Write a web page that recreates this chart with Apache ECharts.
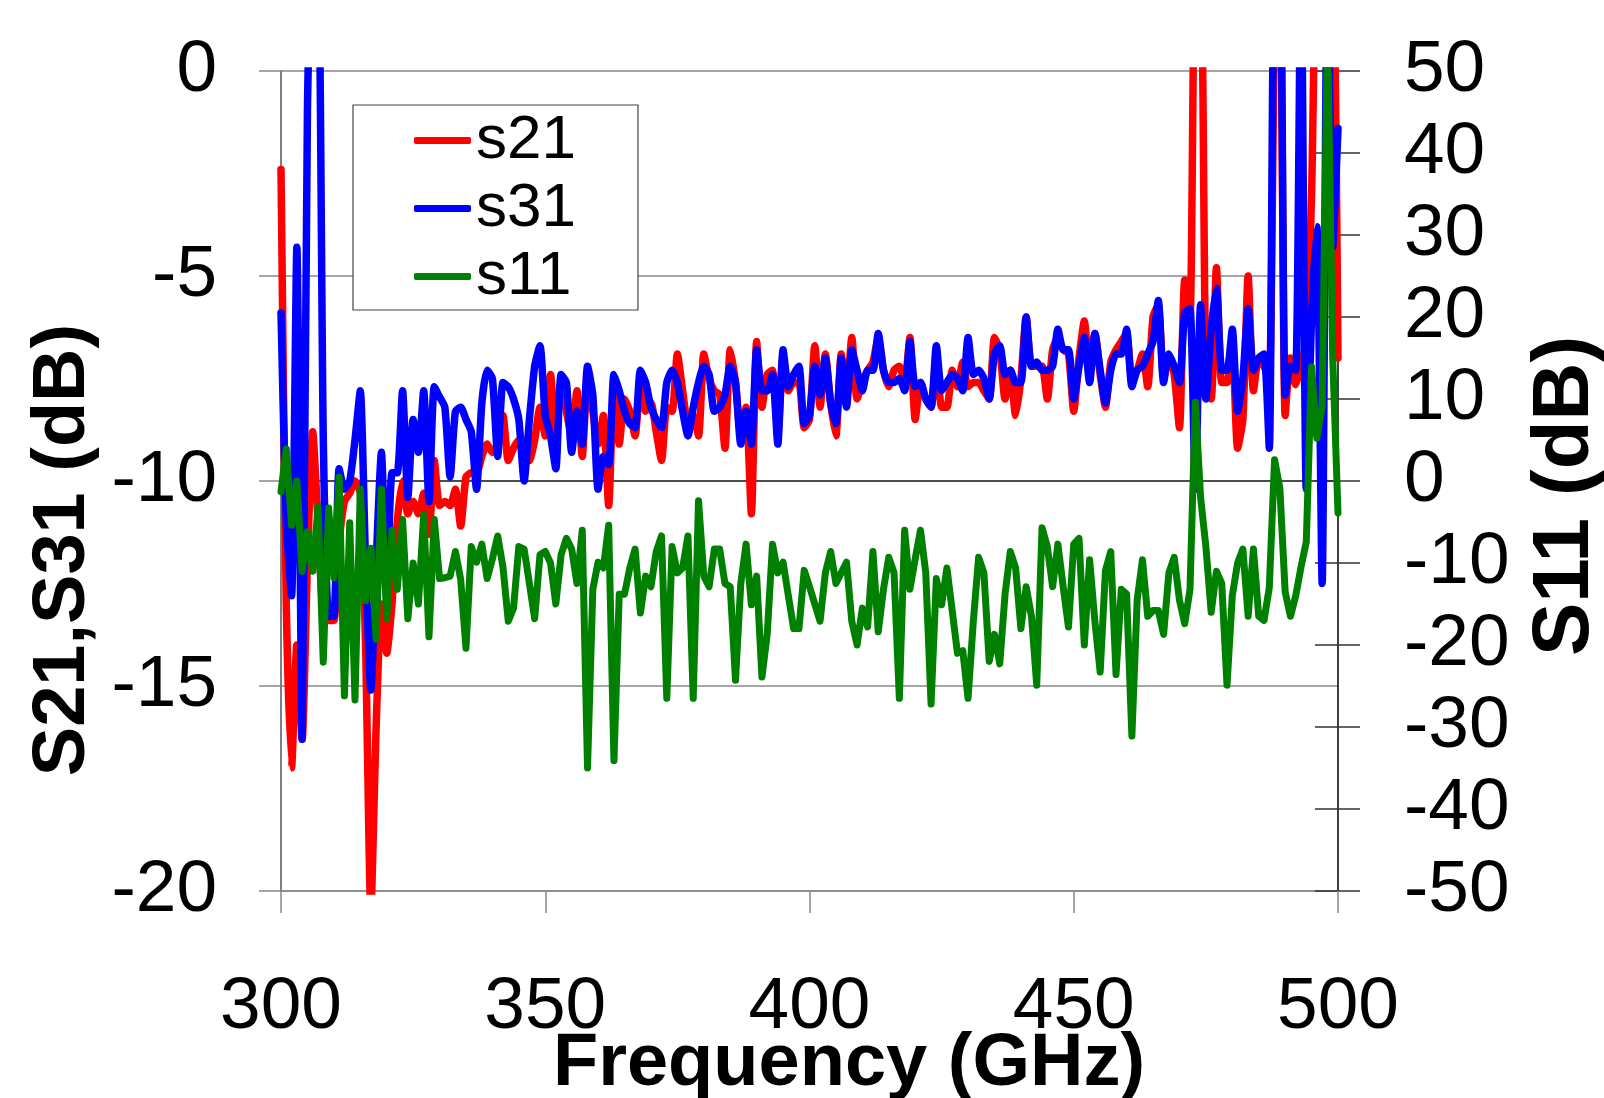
<!DOCTYPE html>
<html>
<head>
<meta charset="utf-8">
<script src="https://cdn.jsdelivr.net/npm/echarts@6/dist/echarts.min.js"></script>
<style>
html,body{margin:0;padding:0;background:#fff;}
#chart{width:1604px;height:1098px;}
</style>
</head>
<body>
<div id="chart"></div>
<script>
const freq = [300,301,302,303,304,305,306,307,308,309,310,311,312,313,314,315,316,317,318,319,320,321,322,323,324,
325,326,327,328,329,330,331,332,333,334,335,336,337,338,339,340,341,342,343,344,345,346,347,348,349,
350,351,352,353,354,355,356,357,358,359,360,361,362,363,364,365,366,367,368,369,370,371,372,373,374,
375,376,377,378,379,380,381,382,383,384,385,386,387,388,389,390,391,392,393,394,395,396,397,398,399,
400,401,402,403,404,405,406,407,408,409,410,411,412,413,414,415,416,417,418,419,420,421,422,423,424,425,
426,427,428,429,430,431,432,433,434,435,436,437,438,439,440,441,442,443,444,445,446,447,448,449,450,
451,452,453,454,455,456,457,458,459,460,461,462,463,464,465,466,467,468,469,470,471,472,473,474,475,476,
477,478,479,480,481,482,483,484,485,486,487,488,489,490,491,492,493,494,495,496,497,498,499,500];

const s21 = [-2.4,-13,-17,-14,-16.3,-12,-8.8,-11,-13.3,-13.4,-13.4,-11.5,-10.5,-10.3,-10,-10.3,-14,-20.5,-16,-13,-14.2,-13,-11,-10,-10.8,
-10.5,-10.8,-10.3,-11.3,-9.5,-10.6,-10.5,-10.6,-10.2,-11.1,-9.9,-9.8,-9.8,-9.4,-9.1,-9.3,-9.2,-8.4,-9.5,-9.2,-9.0,-9.1,-9.5,-9.0,-8.2,
-8.9,-7.4,-8.9,-7.6,-8.3,-8.9,-7.8,-9.4,-7.5,-8.3,-9.1,-8.4,-10.6,-7.6,-9.1,-8.0,-8.3,-8.9,-7.6,-8.3,-8.1,-8.8,-9.5,-8.2,-8.3,
-6.9,-7.8,-8.6,-8.4,-8.9,-6.9,-7.5,-7.8,-7.9,-9.2,-6.8,-7.6,-8.9,-8.2,-10.8,-6.6,-8.2,-7.4,-7.3,-8.9,-7.0,-7.8,-7.6,-7.6,-8.7,
-8.5,-6.7,-8.2,-6.9,-8.1,-8.9,-6.9,-8.0,-6.5,-8.0,-7.6,-7.3,-7.1,-6.5,-7.3,-7.7,-7.3,-7.2,-7.6,-6.5,-8.5,-7.6,-8.0,-8.2,-7.0,-8.2,
-8.2,-7.3,-7.7,-7.1,-7.7,-7.6,-7.6,-7.8,-8.0,-6.5,-6.8,-8.0,-7.3,-8.4,-7.5,-6.0,-7.2,-7.2,-7.2,-8.0,-6.8,-6.5,-6.8,-6.9,-8.3,
-7.0,-6.1,-7.4,-6.4,-7.4,-8.2,-7.1,-6.8,-6.6,-6.4,-7.5,-7.3,-6.9,-7.7,-6.0,-5.7,-7.5,-7.0,-7.4,-8.7,-5.1,-6.0,3,3,-7.5,-8.0,
-4.8,-7.6,-7.6,-6.7,-9.2,-8.5,-5.0,-7.8,-7.0,-7.2,-7.5,1,3,-8.4,-7.0,-7.65,-7.2,-6.5,-3,3,3,3,3,-7.0];

const s31 = [-5.9,-11,-12.8,-4.3,-16.3,-1,3,3,-9,-13.3,-13.3,-9.7,-10.2,-10,-9,-7.8,-12,-15.1,-12,-9.3,-12.8,-9.8,-9.8,-7.8,-10.4,
-8.5,-9.3,-7.8,-10.5,-7.7,-7.95,-8.2,-9.9,-8.3,-8.2,-8.5,-8.8,-10.2,-8.1,-7.3,-7.5,-9.4,-7.6,-7.7,-8.0,-8.5,-10,-8.5,-7.2,-6.7,
-8.4,-8.9,-9.7,-7.4,-7.6,-9.3,-8.3,-9.1,-7.2,-7.9,-10.2,-9.4,-9.6,-7.4,-7.8,-8.3,-8.6,-8.7,-7.3,-7.6,-8.2,-8.5,-8.7,-7.6,-7.3,
-7.6,-8.3,-8.9,-8.2,-7.6,-7.2,-7.4,-8.3,-8.2,-7.9,-7.2,-7.6,-9.1,-8.3,-9.1,-6.8,-7.8,-7.8,-7.4,-9.1,-6.8,-7.7,-7.4,-7.2,-8.6,
-8.4,-7.2,-7.9,-7.0,-8.1,-8.6,-7.0,-8.2,-6.8,-7.3,-7.8,-7.3,-7.3,-6.4,-7.3,-7.6,-7.6,-7.5,-7.8,-6.6,-7.7,-7.6,-8.0,-8.2,-6.7,-7.8,
-7.6,-7.4,-7.5,-7.8,-6.5,-7.4,-7.3,-7.5,-8.0,-6.9,-6.7,-7.4,-7.3,-7.6,-7.6,-6.0,-7.2,-7.1,-7.3,-7.3,-7.2,-6.3,-6.8,-6.8,-8.0,
-7.2,-6.5,-7.6,-6.4,-7.3,-8.1,-7.3,-6.9,-6.9,-6.3,-7.7,-7.3,-7.2,-6.9,-6.6,-5.6,-7.6,-6.9,-7.2,-7.6,-5.9,-5.8,-10.2,-5.7,-8.0,-6.3,
-5.3,-7.3,-7.3,-6.3,-8.3,-7.5,-5.8,-7.3,-7.0,-6.9,-9.2,3,3,-7.9,-7.2,-7.3,3,-10.2,-6,-3.8,-12.5,3,-4.3,-1.4];

const s11 = [-1.3,3.9,-5.4,0,-11,-6.2,-11,-3.1,-22.1,-3.3,-11.8,0.5,-26.2,-5.1,-26.7,-1,-14.6,-8.2,-19.3,-1,-16.8,-6,-13.2,-4.7,-16.8,
-10,-15,-4.1,-19,-4.7,-11.9,-11.8,-11.6,-8.6,-12,-20.4,-8,-9.9,-7.7,-11.9,-9.5,-6.7,-10.5,-17.1,-15.5,-8,-8.3,-12.5,-16.8,-9,
-8.6,-10,-15,-9,-7,-8.3,-12.5,-6,-35,-13.2,-9.9,-10.6,-5.4,-34.1,-13.8,-13.8,-10.6,-8.3,-16.1,-11.6,-12.9,-8.6,-6.7,-26.5,-8,
-11.2,-10.6,-6.7,-26.5,-2.4,-11.6,-12.9,-8.3,-8.3,-12.5,-12.9,-24.3,-12.5,-7.7,-15.1,-11.6,-23.9,-18.7,-7.7,-11.2,-9.9,-14,-18,-18,-10.9,
-12.9,-15,-17.1,-11.2,-8.6,-12.5,-11.2,-9.9,-17.1,-20,-15.5,-17.8,-8.6,-18.4,-13.2,-9.3,-11.2,-26.5,-6,-13.2,-9.5,-6,-11.2,-27.2,-11.9,-15.1,
-10.6,-15.8,-21,-20.7,-26.5,-17.1,-9.3,-11.2,-22,-18.7,-22.3,-13.8,-8.6,-10.6,-18,-12.9,-16.5,-24.9,-5.7,-8,-12.9,-7.7,-12.9,-17.8,-7.7,
-7,-20,-9.6,-17.1,-23.3,-10.9,-8.6,-23.6,-13.2,-13.8,-31.1,-14.5,-9.6,-16.5,-15.8,-15.8,-18.7,-11.2,-9.3,-14.5,-17.4,-13.2,9.6,-2,-8,-16,
-11,-12.5,-24.9,-14,-10,-8.3,-16.5,-8.3,-16.5,-17,-13,2.6,-0.9,-13.5,-16.5,-14,-10.5,-7.4,13.9,5.2,9.1,55,15,-3.9];

const seriesNames = ['s21', 's31', 's11'];
const xTitle = 'Frequency (GHz)';
const yLeftTitle = 'S21,S31 (dB)';
const yRightTitle = 'S11 (dB)';

const FONT = '"Liberation Sans", Arial, Helvetica, sans-serif';
function pairs(vals){ return freq.map((f, i) => [f, vals[i]]); }

const chart = echarts.init(document.getElementById('chart'), null, {renderer: 'canvas'});
chart.setOption({
  animation: false,
  backgroundColor: '#ffffff',
  grid: {left: 281, right: 266, top: 71, bottom: 207, containLabel: false, outerBoundsMode: 'none'},
  legend: {
    data: seriesNames,
    orient: 'vertical',
    left: 353, top: 105,
    padding: [3, 62, 1, 61],
    itemGap: 3,
    itemWidth: 57, itemHeight: 7,
    icon: 'roundRect',
    backgroundColor: '#ffffff',
    borderColor: '#444',
    borderWidth: 1.2,
    textStyle: {fontFamily: FONT, fontSize: 62, lineHeight: 65, color: '#000'}
  },
  xAxis: {
    type: 'value', min: 300, max: 500, interval: 50,
    name: xTitle, nameLocation: 'middle', nameGap: 137, nameMoveOverlap: false,
    nameTextStyle: {fontFamily: FONT, fontSize: 74, fontWeight: 'bold', color: '#000', padding: [0, 0, 0, 79]},
    axisLine: {show: true, onZero: false, lineStyle: {color: '#888', width: 1.5}},
    axisTick: {show: true, inside: false, length: 22, lineStyle: {color: '#888', width: 1.5}},
    axisLabel: {fontFamily: FONT, fontSize: 73, color: '#000', margin: 80},
    splitLine: {show: false}
  },
  yAxis: [
    {
      type: 'value', min: -20, max: 0, interval: 5, position: 'left',
      name: yLeftTitle, nameLocation: 'middle', nameGap: 175, nameRotate: 90,
      nameTextStyle: {fontFamily: FONT, fontSize: 74, fontWeight: 'bold', color: '#000', padding: [0, 138, 0, 0]},
      axisLine: {show: true, onZero: false, lineStyle: {color: '#555', width: 1.5}},
      axisTick: {show: true, inside: false, length: 22, lineStyle: {color: '#888', width: 1.5}},
      axisLabel: {fontFamily: FONT, fontSize: 73, color: '#000', margin: 64},
      splitLine: {show: true, lineStyle: {color: ['#888', '#888', '#111', '#888', '#888'], width: 1.5}}
    },
    {
      type: 'value', min: -50, max: 50, interval: 10, position: 'right',
      name: yRightTitle, nameLocation: 'middle', nameGap: 188, nameRotate: 90,
      nameTextStyle: {fontFamily: FONT, fontSize: 80, fontWeight: 'bold', color: '#000', padding: [0, 30, 0, 0]},
      axisLine: {show: true, onZero: false, lineStyle: {color: '#000', width: 1.5}},
      axisTick: {show: true, inside: false, length: 22, lineStyle: {color: '#333', width: 1.5}},
      axisLabel: {fontFamily: FONT, fontSize: 73, color: '#000', margin: 66, align: 'left'},
      splitLine: {show: false}
    },
    {
      type: 'value', min: -50, max: 50, interval: 10, position: 'right',
      axisLine: {show: false, onZero: false},
      axisTick: {show: true, inside: true, length: 23, lineStyle: {color: '#333', width: 1.5}},
      axisLabel: {show: false},
      splitLine: {show: false}
    }
  ],
  series: [
    {name: seriesNames[0], type: 'line', yAxisIndex: 0, data: pairs(s21), symbol: 'none', smooth: 0.2,
     clip: true, color: '#ff0000', lineStyle: {color: '#ff0000', width: 7.5, cap: 'round', join: 'round'}},
    {name: seriesNames[1], type: 'line', yAxisIndex: 0, data: pairs(s31), symbol: 'none', smooth: 0.2,
     clip: true, color: '#0000ff', lineStyle: {color: '#0000ff', width: 7.5, cap: 'round', join: 'round'}},
    {name: seriesNames[2], type: 'line', yAxisIndex: 1, data: pairs(s11), symbol: 'none',
     clip: true, color: '#008000', lineStyle: {color: '#008000', width: 7, cap: 'round', join: 'round'}}
  ]
});
</script>
</body>
</html>
